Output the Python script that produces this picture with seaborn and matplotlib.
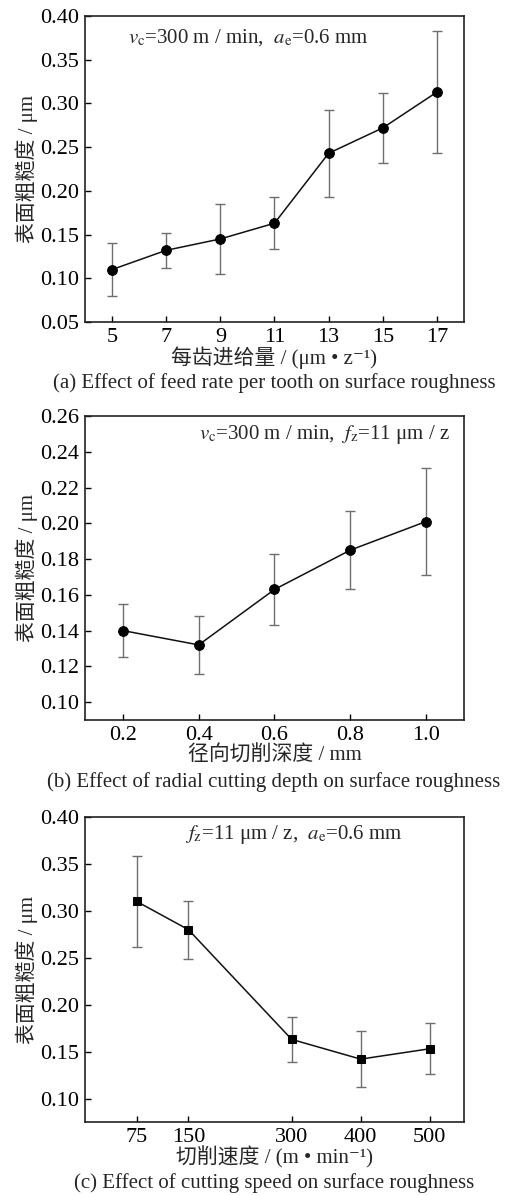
import matplotlib
matplotlib.use("Agg")
import matplotlib.pyplot as plt
import seaborn as sns
import pandas as pd

# (a) feed rate per tooth
feed = [5, 7, 9, 11, 13, 15, 17]
ra_feed = [0.110, 0.132, 0.145, 0.163, 0.243, 0.272, 0.313]
err_feed = [0.030, 0.020, 0.040, 0.030, 0.050, 0.040, 0.070]

# (b) radial cutting depth
depth = [0.2, 0.4, 0.6, 0.8, 1.0]
ra_depth = [0.140, 0.132, 0.163, 0.185, 0.201]
err_depth = [0.015, 0.016, 0.020, 0.022, 0.030]

# (c) cutting speed
speed = [75, 150, 300, 400, 500]
ra_speed = [0.310, 0.280, 0.163, 0.142, 0.153]
err_speed = [0.048, 0.031, 0.024, 0.030, 0.027]

sns.set_theme(style="ticks")
plt.rcParams["font.family"] = ["Liberation Serif", "Noto Sans CJK SC", "DejaVu Serif"]
plt.rcParams["mathtext.fontset"] = "stix"
plt.rcParams["xtick.direction"] = "in"
plt.rcParams["ytick.direction"] = "in"

W, H = 506, 1195
fig = plt.figure(figsize=(W / 100, H / 100), dpi=100)


def make_axes(top, bottom, left=85, right=464):
    return fig.add_axes([left / W, 1 - bottom / H, (right - left) / W, (bottom - top) / H])


panels = [
    dict(x=feed, y=ra_feed, err=err_feed, marker="o", ms=7, top=16, bottom=322,
         xlim=(4, 18), ylim=(0.05, 0.40), yticks=[0.05, 0.10, 0.15, 0.20, 0.25, 0.30, 0.35, 0.40],
         xticks=feed, xfmt="{:g}", yfmt="{:.2f}",
         xlabel="每齿进给量 / (μm • z⁻¹)",
         note=r"$v_\mathrm{c}$=300 m / min,  $a_\mathrm{e}$=0.6 mm", note_x=128, note_y=38, note_ha="left",
         caption="(a) Effect of feed rate per tooth on surface roughness", cap_y=383),
    dict(x=depth, y=ra_depth, err=err_depth, marker="o", ms=7, top=416, bottom=720,
         xlim=(0.1, 1.1), ylim=(0.09, 0.26), yticks=[0.10, 0.12, 0.14, 0.16, 0.18, 0.20, 0.22, 0.24, 0.26],
         xticks=depth, xfmt="{:.1f}", yfmt="{:.2f}",
         xlabel="径向切削深度 / mm",
         note=r"$v_\mathrm{c}$=300 m / min,  $f_\mathrm{z}$=11 μm / z", note_x=450, note_y=435, note_ha="right",
         caption="(b) Effect of radial cutting depth on surface roughness", cap_y=782),
    dict(x=speed, y=ra_speed, err=err_speed, marker="s", ms=6, top=817, bottom=1122,
         xlim=(0, 550), ylim=(0.075, 0.40), yticks=[0.10, 0.15, 0.20, 0.25, 0.30, 0.35, 0.40],
         xticks=speed, xfmt="{:g}", yfmt="{:.2f}",
         xlabel="切削速度 / (m • min⁻¹)",
         note=r"$f_\mathrm{z}$=11 μm / z,  $a_\mathrm{e}$=0.6 mm", note_x=185, note_y=835, note_ha="left",
         caption="(c) Effect of cutting speed on surface roughness", cap_y=1183),
]

for p in panels:
    ax = make_axes(p["top"], p["bottom"])
    df = pd.DataFrame({"x": p["x"], "y": p["y"]})
    ax.errorbar(df["x"], df["y"], yerr=p["err"], fmt="none", ecolor="#6e6e6e",
                elinewidth=1.0, capsize=3.5, capthick=1.0, zorder=2)
    sns.lineplot(data=df, x="x", y="y", ax=ax, color="#111111", linewidth=1.1,
                 marker=p["marker"], markersize=p["ms"], markeredgecolor="black",
                 markerfacecolor="black", zorder=3)
    ax.set_xlim(*p["xlim"])
    ax.set_ylim(*p["ylim"])
    ax.set_xticks(p["xticks"])
    ax.set_xticklabels([p["xfmt"].format(v) for v in p["xticks"]])
    ax.set_yticks(p["yticks"])
    ax.set_yticklabels([p["yfmt"].format(v) for v in p["yticks"]])
    ax.tick_params(axis="both", labelsize=16, length=4, width=1.0, colors="black", pad=4)
    for s in ax.spines.values():
        s.set_linewidth(1.2)
        s.set_color("#222222")
    ax.set_xlabel(p["xlabel"], fontsize=15, labelpad=0)
    ax.set_ylabel("表面粗糙度 / μm", fontsize=15, labelpad=2)
    fig.text(p["note_x"] / W, 1 - p["note_y"] / H, p["note"], fontsize=15,
             ha=p["note_ha"], va="center")
    fig.text(274 / W, 1 - p["cap_y"] / H, p["caption"], fontsize=15,
             ha="center", va="center")

fig.savefig("out.png", dpi=100)
